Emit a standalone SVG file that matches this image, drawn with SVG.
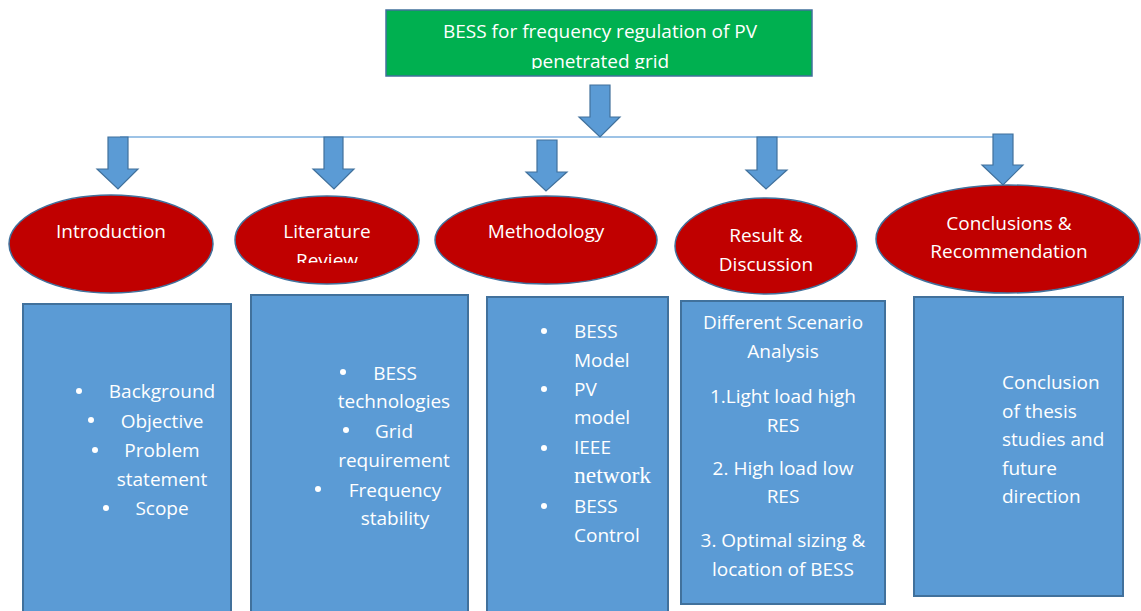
<svg xmlns="http://www.w3.org/2000/svg" width="1141" height="611" viewBox="0 0 1141 611">
  <defs>
    <style>
      .t { font-family: "Open Sans", "Noto Sans", "Liberation Sans", sans-serif; font-size: 19px; fill: #ffffff; }
      .c { text-anchor: middle; }
      .title { fill: #00b050; stroke: #41719c; stroke-width: 1.5; }
      .oval { fill: #c00000; stroke: #41719c; stroke-width: 1.5; }
      .box { fill: #5b9bd5; stroke: #41719c; stroke-width: 2; }
      .arr { fill: #5b9bd5; stroke: #41719c; stroke-width: 1.2; }
      .bus { stroke: #9dc3e6; stroke-width: 2; fill: none; }
      .serif { font-family: "Liberation Serif", "Times New Roman", serif; font-size: 23.5px; }
    </style>
    <clipPath id="clipTitle"><rect x="386" y="10" width="426" height="59"/></clipPath>
    <clipPath id="clipLit"><rect x="235" y="196" width="184" height="67"/></clipPath>
  </defs>

  <rect width="1141" height="611" fill="#ffffff"/>

  <!-- connectors: bus line and block arrows -->
  <g id="connectors">
    <line class="bus" x1="120" y1="137" x2="995" y2="137"/>
    <polygon class="arr" points="590,85 610,85 610,117 620,117 600,137 579,117 590,117"/>
    <polygon class="arr" points="108,137 128,137 128,169 138,169 118,189 97,169 108,169"/>
    <polygon class="arr" points="324,137 343,137 343,169 354,169 334,189 313,169 324,169"/>
    <polygon class="arr" points="537,140 557,140 557,172 567,172 546,191 526,172 537,172"/>
    <polygon class="arr" points="757,137 777,137 777,170 787,170 766,189 746,170 757,170"/>
    <polygon class="arr" points="993,134 1013,134 1013,165 1023,165 1003,185 982,165 993,165"/>
  </g>

  <!-- title -->
  <g id="title">
    <rect class="title" x="386" y="10" width="426" height="66"/>
    <g clip-path="url(#clipTitle)">
      <text class="t c" x="600" y="38">BESS for frequency regulation of PV</text>
      <text class="t c" x="600" y="68">penetrated grid</text>
    </g>
  </g>

  <!-- chapter ovals -->
  <g id="introduction">
    <ellipse class="oval" cx="111" cy="244" rx="102" ry="49"/>
    <text class="t c" x="111" y="238">Introduction</text>
  </g>
  <g id="literature-review">
    <ellipse class="oval" cx="327" cy="240" rx="92" ry="44"/>
    <g clip-path="url(#clipLit)">
      <text class="t c" x="327" y="238">Literature</text>
      <text class="t c" x="327" y="267">Review</text>
    </g>
  </g>
  <g id="methodology">
    <ellipse class="oval" cx="546" cy="240" rx="111" ry="44"/>
    <text class="t c" x="546" y="238">Methodology</text>
  </g>
  <g id="result-discussion">
    <ellipse class="oval" cx="766" cy="246" rx="91" ry="48"/>
    <text class="t c" x="766" y="242">Result &amp;</text>
    <text class="t c" x="766" y="271">Discussion</text>
  </g>
  <g id="conclusions">
    <ellipse class="oval" cx="1008" cy="239" rx="132" ry="54"/>
    <text class="t c" x="1009" y="230">Conclusions &amp;</text>
    <text class="t c" x="1009" y="258">Recommendation</text>
  </g>

  <!-- content boxes -->
  <g id="intro-box">
    <rect class="box" x="23" y="304" width="208" height="320"/>
    <circle cx="79" cy="391" r="3" fill="#fff"/>
    <text class="t c" x="162" y="398">Background</text>
    <circle cx="91" cy="420" r="3" fill="#fff"/>
    <text class="t c" x="162" y="428">Objective</text>
    <circle cx="95" cy="450" r="3" fill="#fff"/>
    <text class="t c" x="162" y="457">Problem</text>
    <text class="t c" x="162" y="486">statement</text>
    <circle cx="106" cy="508" r="3" fill="#fff"/>
    <text class="t c" x="162" y="515">Scope</text>
  </g>

  <g id="literature-box">
    <rect class="box" x="251" y="295" width="217" height="330"/>
    <circle cx="343" cy="372" r="3" fill="#fff"/>
    <text class="t c" x="395" y="380">BESS</text>
    <text class="t c" x="394" y="408">technologies</text>
    <circle cx="346" cy="430" r="3" fill="#fff"/>
    <text class="t c" x="394" y="438">Grid</text>
    <text class="t c" x="394" y="467">requirement</text>
    <circle cx="318" cy="489" r="3" fill="#fff"/>
    <text class="t c" x="395" y="497">Frequency</text>
    <text class="t c" x="395" y="525">stability</text>
  </g>

  <g id="methodology-box">
    <rect class="box" x="487" y="297" width="181" height="330"/>
    <circle cx="544" cy="331" r="3" fill="#fff"/>
    <text class="t" x="574" y="338">BESS</text>
    <text class="t" x="574" y="367">Model</text>
    <circle cx="544" cy="389" r="3" fill="#fff"/>
    <text class="t" x="574" y="396">PV</text>
    <text class="t" x="574" y="424">model</text>
    <circle cx="544" cy="448" r="3" fill="#fff"/>
    <text class="t" x="574" y="454">IEEE</text>
    <text class="t serif" x="574" y="483">network</text>
    <circle cx="544" cy="506" r="3" fill="#fff"/>
    <text class="t" x="574" y="513">BESS</text>
    <text class="t" x="574" y="542">Control</text>
  </g>

  <g id="result-box">
    <rect class="box" x="681" y="301" width="204" height="303"/>
    <text class="t c" x="783" y="329">Different Scenario</text>
    <text class="t c" x="783" y="358">Analysis</text>
    <text class="t c" x="783" y="403">1.Light load high</text>
    <text class="t c" x="783" y="432">RES</text>
    <text class="t c" x="783" y="475">2. High load low</text>
    <text class="t c" x="783" y="503">RES</text>
    <text class="t c" x="783" y="547">3. Optimal sizing &amp;</text>
    <text class="t c" x="783" y="576">location of BESS</text>
  </g>

  <g id="conclusion-box">
    <rect class="box" x="914" y="297" width="209" height="299"/>
    <text class="t" x="1002" y="389">Conclusion</text>
    <text class="t" x="1002" y="418">of thesis</text>
    <text class="t" x="1002" y="446">studies and</text>
    <text class="t" x="1002" y="475">future</text>
    <text class="t" x="1002" y="503">direction</text>
  </g>
</svg>
